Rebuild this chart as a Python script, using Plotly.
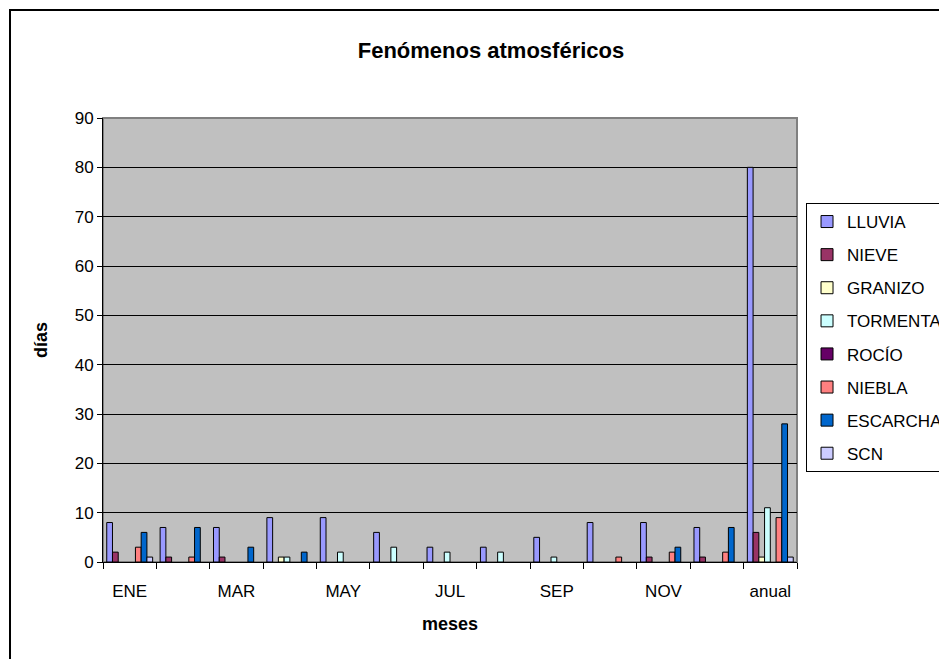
import plotly.graph_objects as go

meses = ['ENE', 'FEB', 'MAR', 'ABR', 'MAY', 'JUN', 'JUL', 'AGO', 'SEP', 'OCT', 'NOV', 'DIC', 'anual']
etiquetas = ['ENE', 'MAR', 'MAY', 'JUL', 'SEP', 'NOV', 'anual']

lluvia = [8, 7, 7, 9, 9, 6, 3, 3, 5, 8, 8, 7, 80]
nieve = [2, 1, 1, 0, 0, 0, 0, 0, 0, 0, 1, 1, 6]
granizo = [0, 0, 0, 1, 0, 0, 0, 0, 0, 0, 0, 0, 1]
tormenta = [0, 0, 0, 1, 2, 3, 2, 2, 1, 0, 0, 0, 11]
rocio = [0, 0, 0, 0, 0, 0, 0, 0, 0, 0, 0, 0, 0]
niebla = [3, 1, 0, 0, 0, 0, 0, 0, 0, 1, 2, 2, 9]
escarcha = [6, 7, 3, 2, 0, 0, 0, 0, 0, 0, 3, 7, 28]
scn = [1, 0, 0, 0, 0, 0, 0, 0, 0, 0, 0, 0, 1]

series = [
    ('LLUVIA', lluvia, '#9999FF'),
    ('NIEVE', nieve, '#993366'),
    ('GRANIZO', granizo, '#FFFFCC'),
    ('TORMENTA', tormenta, '#CCFFFF'),
    ('ROCÍO', rocio, '#660066'),
    ('NIEBLA', niebla, '#FF8080'),
    ('ESCARCHA', escarcha, '#0066CC'),
    ('SCN', scn, '#CCCCFF'),
]

x = list(range(len(meses)))

fig = go.Figure()
for nombre, valores, color in series:
    # las barras con valor 0 no se dibujan (como en Excel)
    fig.add_trace(go.Bar(
        x=x,
        y=[v if v else None for v in valores],
        name=nombre,
        legendgroup=nombre,
        marker=dict(color=color, line=dict(color='black', width=1)),
    ))

fig.update_layout(
    width=947,
    height=659,
    margin=dict(l=95, r=158, t=110, b=105, autoexpand=False),
    paper_bgcolor='white',
    plot_bgcolor='#C0C0C0',
    barmode='group',
    bargap=0.14,
    bargroupgap=0,
    font=dict(family='Liberation Sans, Arial', size=17, color='black'),
    title=dict(
        text='<b>Fenómenos atmosféricos</b>',
        x=0.51,
        xref='container',
        xanchor='center',
        y=0.936,
        yanchor='middle',
        font=dict(size=22),
    ),
    xaxis=dict(
        range=[-0.5, 12.5],
        tickvals=[meses.index(m) for m in etiquetas],
        ticktext=etiquetas,
        ticks='outside',
        ticklen=14,
        tickcolor='rgba(0,0,0,0)',
        showgrid=False,
        showline=True,
        linecolor='black',
        linewidth=1,
        minor=dict(ticks='outside', tick0=0.5, dtick=1, ticklen=6, tickcolor='black', showgrid=False),
        title=dict(text='<b>meses</b>', standoff=16, font=dict(size=18)),
        zeroline=False,
    ),
    yaxis=dict(
        range=[0, 90],
        dtick=10,
        ticks='outside',
        ticklen=5,
        tickcolor='black',
        showgrid=True,
        gridcolor='black',
        gridwidth=1,
        showline=True,
        linecolor='black',
        linewidth=1,
        zeroline=False,
        title=dict(text='<b>días</b>', standoff=22, font=dict(size=18)),
    ),
    legend=dict(
        x=1.013,
        y=0.8086,
        xanchor='left',
        yanchor='top',
        bordercolor='black',
        borderwidth=1,
        bgcolor='white',
        font=dict(size=17),
        tracegroupgap=8,
        itemwidth=30,
    ),
    shapes=[
        dict(type='rect', xref='paper', yref='paper', x0=0, x1=1, y0=0, y1=1,
             line=dict(color='#808080', width=2), layer='below'),
        dict(type='rect', xref='paper', yref='paper', x0=-0.134, x1=1.2125, y0=-0.3, y1=1.243,
             line=dict(color='black', width=2)),
    ],
)

fig.write_html("out.html")
